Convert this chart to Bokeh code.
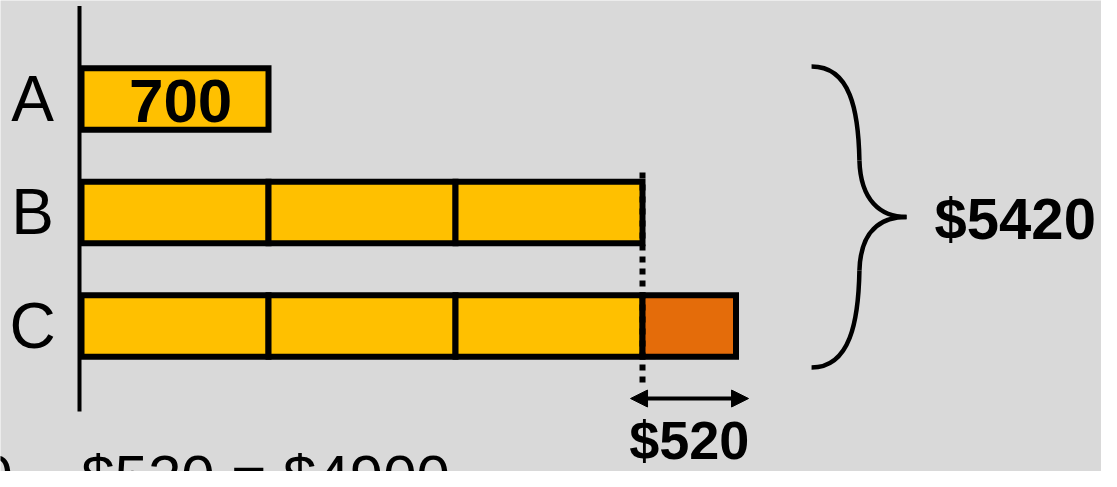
from bokeh.plotting import figure
from bokeh.models import Range1d, Arrow, NormalHead
from bokeh.core.properties import value
from bokeh.embed import file_html
from bokeh.resources import INLINE

# ---------------- data ----------------
rows = ["A", "B", "C"]
unit_value = 700            # value of one unit (bar A)
units = [1, 3, 3]           # number of equal units in each bar
extra_value = [0, 0, 520]   # extra amount added to a bar
total_value = 5420
result_value = 4900
extra_drawn_units = 0.5     # the 520 piece is drawn not to scale in the reference

equation = f"${total_value} \u2212 ${extra_value[2]} = ${result_value}"

# ---------------- style ----------------
BG = "#d9d9d9"
YELLOW = "#ffc000"
ORANGE = "#e46c0a"
FONT = value("Liberation Sans")
BAR_H = 0.542

p = figure(width=1101, height=471, output_backend="svg", toolbar_location=None,
           x_range=Range1d(-0.4332, 5.4545), y_range=Range1d(3.2819, -0.8678),
           x_axis_location=None, y_axis_location=None, min_border=0,
           background_fill_color=BG, border_fill_color=BG, outline_line_color=None)
p.grid.visible = False

# ---------------- bars (one rectangle per unit) ----------------
seg_left, seg_right, seg_y, seg_color = [], [], [], []
for i, (n, e) in enumerate(zip(units, extra_value)):
    for k in range(n):
        seg_left.append(k)
        seg_right.append(k + 1)
        seg_y.append(i)
        seg_color.append(YELLOW)
    if e:
        seg_left.append(n)
        seg_right.append(n + extra_drawn_units)
        seg_y.append(i)
        seg_color.append(ORANGE)

# vertical base line
p.segment(x0=[-0.0107], y0=[-0.82], x1=[-0.0107], y1=[len(rows) - 1 + 0.753],
          line_color="black", line_width=4)

p.hbar(y=seg_y, left=seg_left, right=seg_right, height=BAR_H,
       fill_color=seg_color, line_color="black", line_width=6, line_join="miter")

# row labels
p.text(x=[-0.262] * len(rows), y=list(range(len(rows))), text=rows,
       text_font=FONT, text_font_size="64px", text_align="center",
       text_baseline="middle", text_color="black")

# unit value inside bar A
p.text(x=[0.53], y=[0.02], text=[str(unit_value)], text_font=FONT,
       text_font_size="62px", text_font_style="bold", text_align="center",
       text_baseline="middle", text_color="black")

# dotted guide at the end of bar B
nB = units[1]
p.segment(x0=[nB], y0=[1 - BAR_H / 2 - 0.081], x1=[nB], y1=[2 + BAR_H / 2 + 0.253],
          line_color="black", line_width=6, line_dash="6 6")

# double arrow under the extra piece
ya = 2 + BAR_H / 2 + 0.368
p.add_layout(Arrow(x_start=units[2] - 0.064, y_start=ya,
                   x_end=units[2] + extra_drawn_units + 0.067, y_end=ya,
                   line_color="black", line_width=4,
                   start=NormalHead(size=17, fill_color="black", line_color="black"),
                   end=NormalHead(size=17, fill_color="black", line_color="black")))

p.text(x=[units[2] + extra_drawn_units / 2], y=[3.0], text=[f"${extra_value[2]}"],
       text_font=FONT, text_font_size="54px", text_font_style="bold",
       text_align="center", text_baseline="middle", text_color="black")

# curly brace spanning all bars
top = -BAR_H / 2 - 0.015
bot = 2 + BAR_H / 2 + 0.095
mid = (top + bot) / 2
xl, xm, xt = 3.904, 4.16, 4.412
bx0 = [xl, xm, xt, xm]
by0 = [top, top + 0.828, mid, mid + 0.471]
bx1 = [xm, xt, xm, xl]
by1 = [top + 0.828, mid, mid + 0.471, bot]
cx0 = [4.112, xm + 0.006, 4.273, xm - 0.005]
cy0 = [top, mid - 0.146, mid, mid + 0.912]
cx1 = [xm - 0.005, 4.273, xm + 0.006, 4.112]
cy1 = [top + 0.388, mid, mid + 0.119, bot]
p.bezier(x0=bx0, y0=by0, x1=bx1, y1=by1, cx0=cx0, cy0=cy0, cx1=cx1, cy1=cy1,
         line_color="black", line_width=4.5)

p.text(x=[4.562], y=[mid + 0.013], text=[f"${total_value}"], text_font=FONT,
       text_font_size="58px", text_font_style="bold", text_align="left",
       text_baseline="middle", text_color="black")

# equation at the bottom (partly outside the picture, as in the reference)
p.text(x=[1.97], y=[3.035], text=[equation], text_font=FONT, text_font_size="60px",
       text_align="right", text_baseline="top", text_color="black")

open("out.html", "w").write(file_html(p, INLINE))
